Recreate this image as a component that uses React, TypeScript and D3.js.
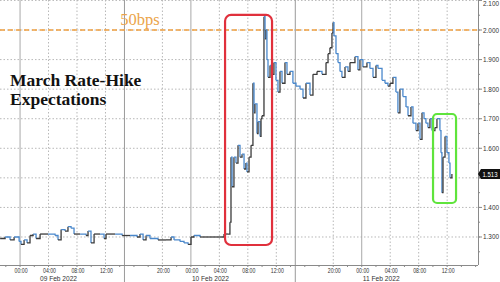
import React from "react";
import * as d3 from "d3";

const W = 500;
const H = 282;

// Series: [time, value] per day
const feb8: [string, number][] = [
  ["21:12", 1.295], ["21:54", 1.3], ["22:36", 1.29], ["23:10", 1.3], ["23:52", 1.285],
];
const feb9: [string, number][] = [
  ["00:08", 1.275], ["00:34", 1.29], ["00:59", 1.28], ["01:24", 1.305], ["01:50", 1.31],
  ["02:15", 1.295], ["02:49", 1.31], ["03:56", 1.31], ["04:55", 1.305], ["05:20", 1.29],
  ["05:46", 1.325], ["06:19", 1.32], ["06:44", 1.335], ["07:10", 1.33], ["07:35", 1.31],
  ["08:26", 1.31], ["09:16", 1.305], ["09:33", 1.32], ["09:58", 1.28], ["10:24", 1.31],
  ["11:14", 1.31], ["11:48", 1.295], ["12:05", 1.31], ["13:21", 1.31], ["14:20", 1.305],
  ["15:27", 1.305], ["16:26", 1.3], ["16:51", 1.31], ["17:17", 1.29], ["17:42", 1.305],
  ["18:15", 1.295], ["19:23", 1.29], ["20:30", 1.29], ["21:13", 1.3], ["21:38", 1.29],
  ["22:28", 1.285], ["23:02", 1.28], ["23:36", 1.275],
];
const feb10: [string, number][] = [
  ["00:01", 1.3], ["00:26", 1.305], ["01:17", 1.3], ["04:22", 1.3], ["04:39", 1.31],
  ["05:13", 1.31], ["05:29", 1.35], ["05:38", 1.57], ["05:47", 1.47], ["06:03", 1.57],
  ["06:20", 1.55], ["06:37", 1.61], ["06:54", 1.57], ["07:11", 1.58], ["07:28", 1.53],
  ["07:44", 1.55], ["07:53", 1.52], ["08:10", 1.57], ["08:27", 1.61], ["08:43", 1.82],
  ["08:52", 1.72], ["09:00", 1.75], ["09:17", 1.65], ["09:26", 1.69], ["09:43", 1.64],
  ["09:51", 1.7], ["09:59", 1.71], ["10:16", 2.045], ["10:25", 1.97], ["10:33", 2.0],
  ["10:41", 1.9], ["10:50", 1.84], ["11:07", 1.88], ["11:23", 1.85], ["11:40", 1.89],
  ["11:57", 1.83], ["12:14", 1.79], ["12:31", 1.86], ["12:48", 1.82], ["13:13", 1.89],
  ["13:30", 1.85], ["13:55", 1.86], ["14:20", 1.82], ["14:46", 1.81], ["15:20", 1.8],
  ["15:45", 1.77], ["16:10", 1.82], ["16:44", 1.78], ["17:09", 1.85], ["17:43", 1.86],
  ["18:08", 1.86], ["18:25", 1.85], ["18:59", 1.89], ["19:16", 1.92], ["19:32", 1.94],
  ["19:49", 1.99], ["19:58", 2.025], ["20:06", 1.98], ["20:23", 1.92], ["20:40", 1.89],
  ["20:57", 1.86], ["21:13", 1.84], ["21:39", 1.875], ["22:04", 1.86], ["22:21", 1.89],
  ["23:03", 1.91], ["23:28", 1.865], ["23:45", 1.9],
];
const feb11: [string, number][] = [
  ["00:10", 1.875], ["00:44", 1.89], ["01:09", 1.87], ["01:35", 1.84], ["02:00", 1.88],
  ["02:17", 1.87], ["02:51", 1.83], ["03:16", 1.82], ["03:41", 1.81], ["03:58", 1.82],
  ["04:23", 1.84], ["04:48", 1.79], ["05:05", 1.72], ["05:22", 1.8], ["05:47", 1.775],
  ["06:13", 1.74], ["06:30", 1.71], ["06:55", 1.74], ["07:12", 1.685], ["07:37", 1.66],
  ["07:54", 1.685], ["08:11", 1.63], ["08:28", 1.72], ["08:45", 1.7], ["09:01", 1.685],
  ["09:18", 1.67], ["09:35", 1.7], ["09:52", 1.66], ["10:17", 1.67], ["10:34", 1.7],
  ["10:59", 1.66], ["11:08", 1.585], ["11:16", 1.45], ["11:25", 1.57], ["11:42", 1.64],
  ["11:58", 1.585], ["12:15", 1.55], ["12:24", 1.5], ["12:40", 1.513],
];

const dayKeys = ["2022-02-08", "2022-02-09", "2022-02-10", "2022-02-11"];
const labelDays = ["2022-02-09", "2022-02-10", "2022-02-11"];
const dateLabels = ["09 Feb 2022", "10 Feb 2022", "11 Feb 2022"];
const labelHours = [0, 4, 8, 12, 20];
const yTicks = [1.3, 1.4, 1.5, 1.6, 1.7, 1.8, 1.9, 2.0, 2.1];
const sessionBreaks = ["2022-02-09 14:40", "2022-02-10 14:40"];
const lastValue = 1.513;
const targetLevel = 2.0;
const targetLabel = "50bps";
const titleLines = ["March Rate-Hike", "Expectations"];
const redBox = { t: ["2022-02-10 04:48", "2022-02-10 11:24"], v: [1.273, 2.051] };
const greenBox = { t: ["2022-02-11 10:01", "2022-02-11 13:15"], v: [1.415, 1.716] };

const parse = d3.timeParse("%Y-%m-%d %H:%M");
const P = (s: string) => parse(s) as Date;

type Pt = { t: Date; v: number };
const data: Pt[] = [feb8, feb9, feb10, feb11].flatMap((arr, i) =>
  arr.map(([hm, v]) => ({ t: P(`${dayKeys[i]} ${hm}`), v }))
);

const plotR = 478;
const plotB = 265;

const x = d3
  .scaleTime()
  .domain([P("2022-02-08 21:11"), P("2022-02-11 16:20")])
  .range([0, plotR]);
const y = d3.scaleLinear().domain([1.2053, 2.1015]).range([plotB, 0]);

const stepLine = d3
  .line<Pt>()
  .x((d) => x(d.t))
  .y((d) => y(d.v))
  .curve(d3.curveStepAfter);

const UP = "#3b3b3b";
const DOWN = "#4a88cc";
const GRID = "#b8b8b8";
const AXIS = "#8a8a8a";
const TXT = "#333";

export default function App() {
  const hourGrid: { t: Date; h: number }[] = [];
  dayKeys.forEach((d) => {
    labelHours.forEach((h) => {
      const t = P(`${d} ${String(h).padStart(2, "0")}:00`);
      const px = x(t);
      if (px >= 0 && px <= plotR) hourGrid.push({ t, h });
    });
  });
  const minorTicks = x.ticks(d3.timeHour.every(2) as any).filter((t) => x(t) >= 0 && x(t) <= plotR);
  const minorY = d3.range(1.25, 2.11, 0.05);

  const segs = data.slice(0, -1).map((p, i) => ({
    d: stepLine([p, data[i + 1]]) as string,
    c: data[i + 1].v >= p.v ? UP : DOWN,
  }));

  const ly = y(lastValue);

  return (
    <svg width={W} height={H} style={{ position: "absolute", left: 0, top: 0, background: "#fff" }}>
      <rect x={0} y={0} width={W} height={H} fill="#fff" />
      {/* horizontal grid */}
      {yTicks.map((v) => (
        <line key={"hg" + v} x1={0} x2={plotR} y1={y(v)} y2={y(v)} stroke={GRID} strokeWidth={1} strokeDasharray="1.5,2" />
      ))}
      {/* vertical grid */}
      {hourGrid.map(({ t, h }) =>
        h === 0 ? (
          <line key={"vg" + +t} x1={x(t)} x2={x(t)} y1={0} y2={plotB} stroke="#a8a8a8" strokeWidth={1} />
        ) : (
          <line key={"vg" + +t} x1={x(t)} x2={x(t)} y1={0} y2={plotB} stroke={GRID} strokeWidth={1} strokeDasharray="1.5,2" />
        )
      )}
      {sessionBreaks.map((s) => (
        <line key={s} x1={x(P(s))} x2={x(P(s))} y1={0} y2={H} stroke="#9a9a9a" strokeWidth={1} />
      ))}
      {/* target level */}
      <line x1={0} x2={plotR} y1={y(targetLevel)} y2={y(targetLevel)} stroke="#f0a040" strokeWidth={1.6} strokeDasharray="5,3" />
      <text x={x(P("2022-02-09 16:50"))} y={y(targetLevel) - 5} fill="#eba44a" fontFamily="'Liberation Serif', serif" fontSize={16.5} textAnchor="middle">
        {targetLabel}
      </text>
      {/* title */}
      {titleLines.map((s, i) => (
        <text key={s} x={10} y={86 + i * 18.5} fill="#111" fontFamily="'Liberation Serif', serif" fontWeight="bold" fontSize={17.5}>
          {s}
        </text>
      ))}
      {/* series */}
      <g fill="none" strokeWidth={1.3}>
        {segs.map((s, i) => (
          <path key={i} d={s.d} stroke={s.c} />
        ))}
      </g>
      {/* annotation boxes */}
      <rect
        x={x(P(redBox.t[0]))}
        y={y(redBox.v[1])}
        width={x(P(redBox.t[1])) - x(P(redBox.t[0]))}
        height={y(redBox.v[0]) - y(redBox.v[1])}
        rx={6}
        fill="none"
        stroke="#e0303c"
        strokeWidth={2.2}
      />
      <rect
        x={x(P(greenBox.t[0]))}
        y={y(greenBox.v[1])}
        width={x(P(greenBox.t[1])) - x(P(greenBox.t[0]))}
        height={y(greenBox.v[0]) - y(greenBox.v[1])}
        rx={4}
        fill="none"
        stroke="#5fe43c"
        strokeWidth={2.2}
      />
      {/* x axis */}
      <line x1={0} x2={plotR} y1={plotB + 0.5} y2={plotB + 0.5} stroke={AXIS} />
      {minorTicks.map((t) => (
        <line key={"mt" + +t} x1={x(t)} x2={x(t)} y1={plotB} y2={plotB + 2} stroke={AXIS} />
      ))}
      {hourGrid.map(({ t }) => (
        <text key={"xl" + +t} x={x(t) + 1} y={273} fill={TXT} fontFamily="'Liberation Sans', sans-serif" fontSize={7} textAnchor="middle" textLength={13} lengthAdjust="spacingAndGlyphs">
          {d3.timeFormat("%H:%M")(t)}
        </text>
      ))}
      {labelDays.map((d, i) => (
        <text key={d} x={Math.max(x(P(`${d} 00:00`)) + 1, 40)} y={281} fill={TXT} fontFamily="'Liberation Sans', sans-serif" fontSize={7} textLength={37} lengthAdjust="spacingAndGlyphs">
          {dateLabels[i]}
        </text>
      ))}
      {/* y axis */}
      <line x1={plotR + 0.5} x2={plotR + 0.5} y1={0} y2={plotB} stroke={AXIS} />
      {minorY.map((v) => (
        <line key={"my" + v} x1={plotR} x2={plotR + 2} y1={y(v)} y2={y(v)} stroke={AXIS} />
      ))}
      {yTicks.map((v) => (
        <g key={"yt" + v}>
          <line x1={plotR} x2={plotR + 4} y1={y(v)} y2={y(v)} stroke={AXIS} />
          {Math.abs(y(v) - ly) > 7 && (
            <text x={plotR + 5} y={Math.max(y(v) + 2.5, 6)} fill={TXT} fontFamily="'Liberation Sans', sans-serif" fontSize={7} textLength={16} lengthAdjust="spacingAndGlyphs">
              {d3.format(".3f")(v)}
            </text>
          )}
        </g>
      ))}
      {/* last value tag */}
      <path d={`M${plotR},${ly} L${plotR + 3},${ly - 5} H${W} V${ly + 5} H${plotR + 3} Z`} fill="#111" />
      <text x={plotR + 12} y={ly + 2.5} fill="#fff" fontFamily="'Liberation Sans', sans-serif" fontSize={7} textAnchor="middle" textLength={15} lengthAdjust="spacingAndGlyphs">
        {d3.format(".3f")(lastValue)}
      </text>
    </svg>
  );
}
